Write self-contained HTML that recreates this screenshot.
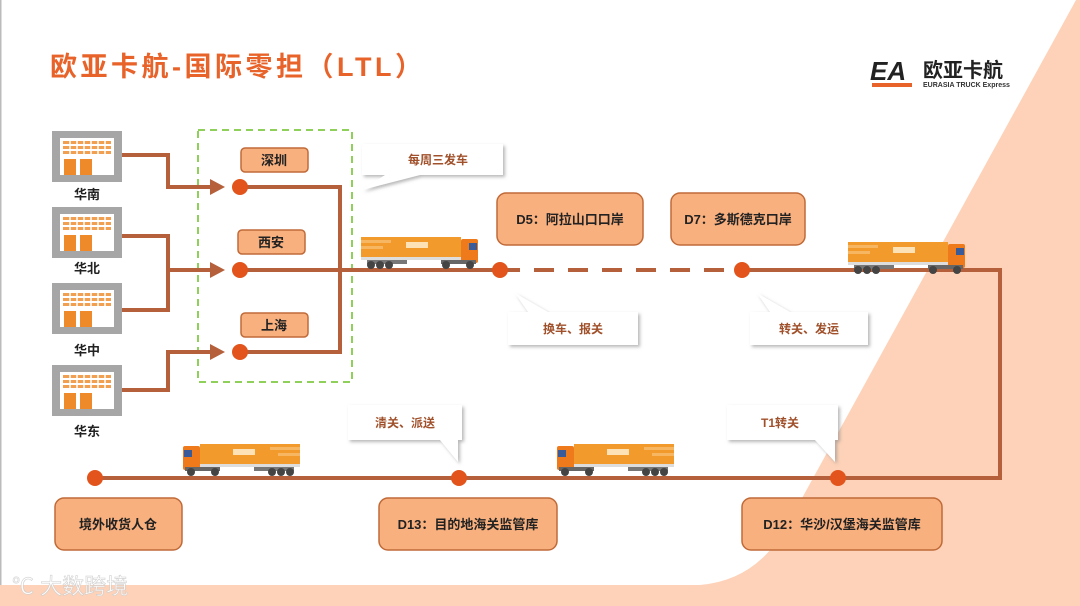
<!DOCTYPE html>
<html><head><meta charset="utf-8"><style>
html,body{margin:0;padding:0;background:#fff}
svg{display:block}
text{font-family:"Liberation Sans","Noto Sans CJK SC",sans-serif}
</style></head><body>
<svg width="1080" height="606" viewBox="0 0 1080 606" xmlns="http://www.w3.org/2000/svg">
<defs>
<filter id="sh" x="-10%" y="-10%" width="130%" height="140%"><feDropShadow dx="2" dy="2" stdDeviation="1.5" flood-color="#888" flood-opacity="0.6"/></filter>
<g id="wh">
<rect x="0" y="0" width="70" height="51" fill="#a6a6a6"/>
<rect x="8" y="7" width="54" height="37" fill="#fff"/>
<g fill="#f0a050">
<rect x="11" y="10" width="48" height="3"/><rect x="11" y="15" width="48" height="3"/><rect x="11" y="20" width="48" height="3"/>
</g>
<g stroke="#fff" stroke-width="1.5"><line x1="18" y1="9" x2="18" y2="24"/><line x1="25" y1="9" x2="25" y2="24"/><line x1="32" y1="9" x2="32" y2="24"/><line x1="39" y1="9" x2="39" y2="24"/><line x1="46" y1="9" x2="46" y2="24"/><line x1="53" y1="9" x2="53" y2="24"/></g>
<rect x="12" y="28" width="12" height="16" fill="#ee8a2a"/><rect x="28" y="28" width="12" height="16" fill="#ee8a2a"/>
</g>
<g id="truck">
<rect x="0" y="0" width="100" height="22" fill="#f39a2c"/>
<rect x="0" y="3" width="30" height="3" fill="#f7b662"/><rect x="0" y="9" width="22" height="3" fill="#f7b662"/>
<rect x="45" y="5" width="22" height="6" fill="#fde2b8"/>
<rect x="0" y="20" width="100" height="3" fill="#ddd"/>
<rect x="100" y="2" width="17" height="24" rx="2" fill="#ef7a1c"/>
<rect x="108" y="6" width="8" height="7" fill="#3a5b9a"/>
<rect x="6" y="23" width="40" height="4" fill="#777"/>
<rect x="80" y="23" width="35" height="4" fill="#666"/>
<g fill="#444"><circle cx="10" cy="28" r="4"/><circle cx="19" cy="28" r="4"/><circle cx="28" cy="28" r="4"/><circle cx="85" cy="28" r="4"/><circle cx="109" cy="28" r="4"/></g>
</g>
</defs>
<rect x="0" y="0" width="1080" height="606" fill="#fff"/>
<path d="M1076 0 L1080 0 L1080 606 L0 606 L0 585 L700 585 Q760 580 790 520 Z" fill="#fdd2b8"/>
<rect x="0" y="0" width="1.5" height="585" fill="#bbb"/>
<text x="50" y="76" font-size="27" font-weight="bold" fill="#e8632a" letter-spacing="3.5">欧亚卡航-国际零担（LTL）</text>
<text x="870" y="80" font-size="26" font-weight="bold" font-style="italic" fill="#222">EA</text>
<rect x="872" y="83" width="40" height="4" fill="#e8632a"/>
<text x="923" y="77" font-size="20" font-weight="bold" fill="#222">欧亚卡航</text>
<text x="923" y="87" font-size="7" font-weight="bold" fill="#333">EURASIA TRUCK Express</text>
<use href="#wh" x="52" y="131"/><use href="#wh" x="52" y="207"/><use href="#wh" x="52" y="283"/><use href="#wh" x="52" y="365"/>
<g font-size="13" font-weight="bold" fill="#222" text-anchor="middle">
<text x="87" y="199">华南</text><text x="87" y="273">华北</text><text x="87" y="355">华中</text><text x="87" y="436">华东</text>
</g>
<rect x="198" y="130" width="154" height="252" fill="none" stroke="#8ed05a" stroke-width="2" stroke-dasharray="7,5"/>
<g fill="none" stroke="#b5603a" stroke-width="4">
<polyline points="122,155 168,155 168,187 212,187"/>
<polyline points="122,236 168,236 168,270 212,270"/>
<polyline points="122,310 168,310 168,270"/>
<polyline points="122,390 168,390 168,352 212,352"/>
<polyline points="240,187 340,187 340,352 240,352"/>
<line x1="240" y1="270" x2="500" y2="270"/>
<line x1="500" y1="270" x2="742" y2="270" stroke-dasharray="20,14"/>
<polyline points="742,270 1000,270 1000,478 95,478"/>
</g>
<g fill="#b5603a">
<polygon points="210,179 225,187 210,195"/><polygon points="210,262 225,270 210,278"/><polygon points="210,344 225,352 210,360"/>
</g>
<g fill="#e2541b">
<circle cx="240" cy="187" r="8"/><circle cx="240" cy="270" r="8"/><circle cx="240" cy="352" r="8"/>
<circle cx="500" cy="270" r="8"/><circle cx="742" cy="270" r="8"/>
<circle cx="95" cy="478" r="8"/><circle cx="459" cy="478" r="8"/><circle cx="838" cy="478" r="8"/>
</g>
<use href="#truck" x="361" y="237"/>
<use href="#truck" x="848" y="242"/>
<use href="#truck" transform="translate(300,444) scale(-1,1)"/>
<use href="#truck" transform="translate(674,444) scale(-1,1)"/>
<g fill="#f9b07f" stroke="#c06a38" stroke-width="1.5">
<rect x="241" y="148" width="67" height="24" rx="4"/>
<rect x="238" y="230" width="67" height="24" rx="4"/>
<rect x="241" y="313" width="67" height="24" rx="4"/>
<rect x="497" y="193" width="146" height="52" rx="9"/>
<rect x="671" y="193" width="134" height="52" rx="9"/>
<rect x="55" y="498" width="127" height="52" rx="9"/>
<rect x="379" y="498" width="178" height="52" rx="9"/>
<rect x="742" y="498" width="200" height="52" rx="9"/>
</g>
<g font-size="13" font-weight="bold" fill="#222" text-anchor="middle">
<text x="274" y="165">深圳</text><text x="271" y="247">西安</text><text x="274" y="330">上海</text>
<text x="570" y="224">D5：阿拉山口口岸</text><text x="738" y="224">D7：多斯德克口岸</text>
<text x="118" y="529">境外收货人仓</text><text x="468" y="529">D13：目的地海关监管库</text><text x="842" y="529">D12：华沙/汉堡海关监管库</text>
</g>
<g fill="#fff" filter="url(#sh)">
<path d="M362 144 H503 V175 H420 L362 190 L385 175 H362 Z"/>
<path d="M508 312 H638 V345 H508 Z M515 293 L528 312 H548 Z"/>
<path d="M750 312 H868 V345 H750 Z M757 293 L770 312 H790 Z"/>
<path d="M348 405 H462 V440 H458 L458 462 L440 440 H348 Z"/>
<path d="M727 405 H838 V440 H835 L835 462 L815 440 H727 Z"/>
</g>
<g font-size="12" font-weight="bold" fill="#a0502a" text-anchor="middle">
<text x="438" y="164">每周三发车</text>
<text x="573" y="333">换车、报关</text>
<text x="809" y="333">转关、发运</text>
<text x="405" y="427">清关、派送</text>
<text x="780" y="427">T1转关</text>
</g>
<text x="12" y="594" font-size="22" fill="#fff" stroke="#ccc" stroke-width="0.6" opacity="0.9">℃ 大数跨境</text>
</svg>
</body></html>
